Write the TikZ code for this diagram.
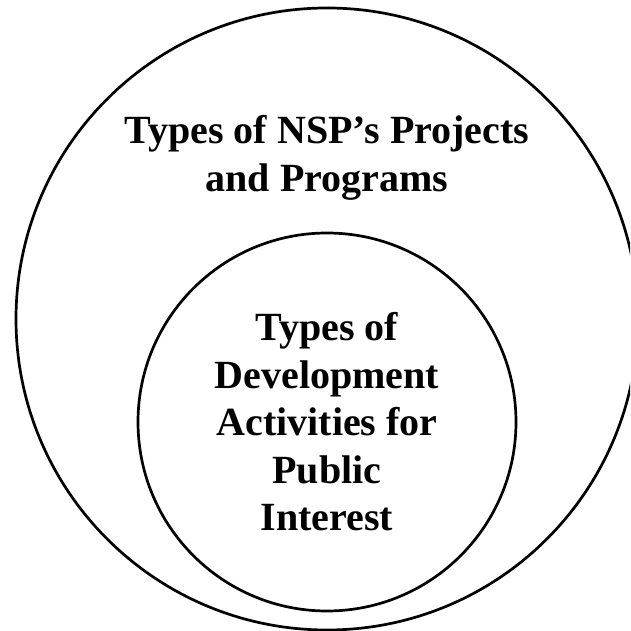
\documentclass[tikz,border=0pt]{standalone}
\usepackage{fontspec}
\setmainfont{Liberation Serif}

\tikzset{
	ring/.style={line width=2.7pt},
	ringtext/.style={align=center, inner sep=0pt, font=\bfseries\fontsize{40}{47.5}\selectfont}
}

\begin{document}
\begin{tikzpicture}[x=1pt,y=1pt]
	\useasboundingbox (0,0) rectangle (630,631);
	\clip (0,0) rectangle (630,631);
	\coordinate (big) at (327,312);
	\coordinate (small) at (327,209);
	\draw[ring] (big) circle (311pt);
	\draw[ring] (small) circle (189pt);
	\node (nsp)[ringtext] at (327,473) {Types of NSP’s Projects\\and Programs};
	\node (dev)[ringtext] at (small) {Types of\\Development\\Activities for\\Public\\Interest};
\end{tikzpicture}
\end{document}
